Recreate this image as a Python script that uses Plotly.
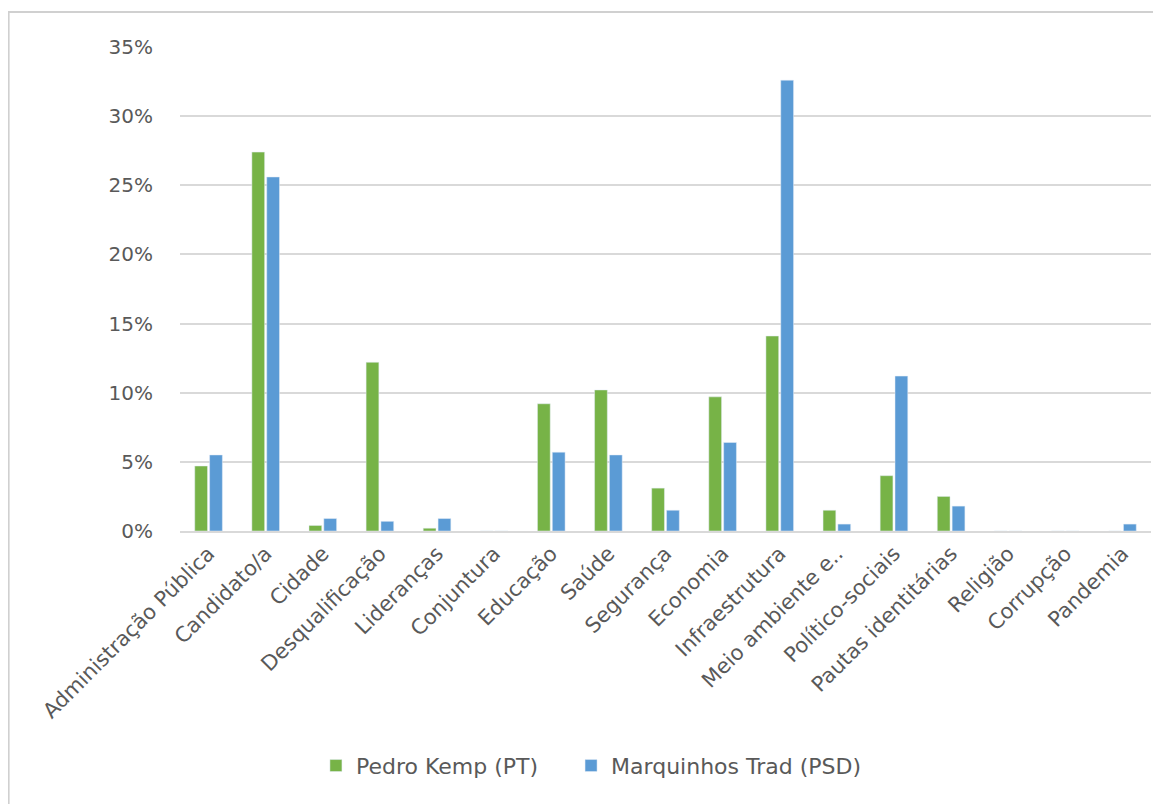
import plotly.graph_objects as go

# categories and values (percent)
categorias = ['Administração Pública', 'Candidato/a', 'Cidade', 'Desqualificação',
              'Lideranças', 'Conjuntura', 'Educação', 'Saúde', 'Segurança', 'Economia',
              'Infraestrutura', 'Meio ambiente e..', 'Político-sociais',
              'Pautas identitárias', 'Religião', 'Corrupção', 'Pandemia']
pedro_kemp = [4.7, 27.4, 0.4, 12.2, 0.2, 0, 9.2, 10.2, 3.1, 9.7, 14.1, 1.5, 4.0, 2.5, 0, 0, 0]
marquinhos_trad = [5.5, 25.6, 0.9, 0.7, 0.9, 0, 5.7, 5.5, 1.5, 6.4, 32.6, 0.5, 11.2, 1.8, 0, 0, 0.5]
y_ticks = [0, 5, 10, 15, 20, 25, 30, 35]

fnt = 'DejaVu Sans'
txt = '#595959'
pad = '\u00a0' * 4  # a bit more space between the two legend entries

fig = go.Figure()
fig.add_trace(go.Bar(x=categorias, y=pedro_kemp, name='Pedro Kemp (PT)' + pad, marker_color='#77B347'))
fig.add_trace(go.Bar(x=categorias, y=marquinhos_trad, name='Marquinhos Trad (PSD)', marker_color='#5B9BD5'))

# page body has an 8px margin, so the figure is 8px smaller than the window
fig.update_layout(
    width=1153, height=796,
    margin=dict(l=172, r=10, t=39, b=273),
    paper_bgcolor='white', plot_bgcolor='white',
    barmode='group', bargap=0.48, bargroupgap=0.14,
    font=dict(family=fnt, size=16, color=txt),
    legend=dict(orientation='h', x=0.14, xanchor='left', y=-0.485, yanchor='middle',
                font=dict(size=22, color=txt), itemwidth=30),
    showlegend=True,
)
fig.update_yaxes(range=[0, 35], tickvals=y_ticks, ticktext=[f'{v}%' for v in y_ticks],
                 showgrid=True, gridcolor='#D9D9D9', gridwidth=2, zeroline=False,
                 showline=False, ticks='', ticklabelstandoff=26, tickfont=dict(size=20))
fig.update_xaxes(tickangle=-45, showline=True, linecolor='#D9D9D9', linewidth=2,
                 ticks='', showgrid=False, tickfont=dict(size=21))

# light frame around the chart
fig.add_shape(type='rect', xref='paper', yref='paper', x0=-0.1765, x1=1.05, y0=-0.62, y1=1.0723,
              line=dict(color='#D0D0D0', width=2), fillcolor='rgba(0,0,0,0)')

fig.write_html('out.html')
